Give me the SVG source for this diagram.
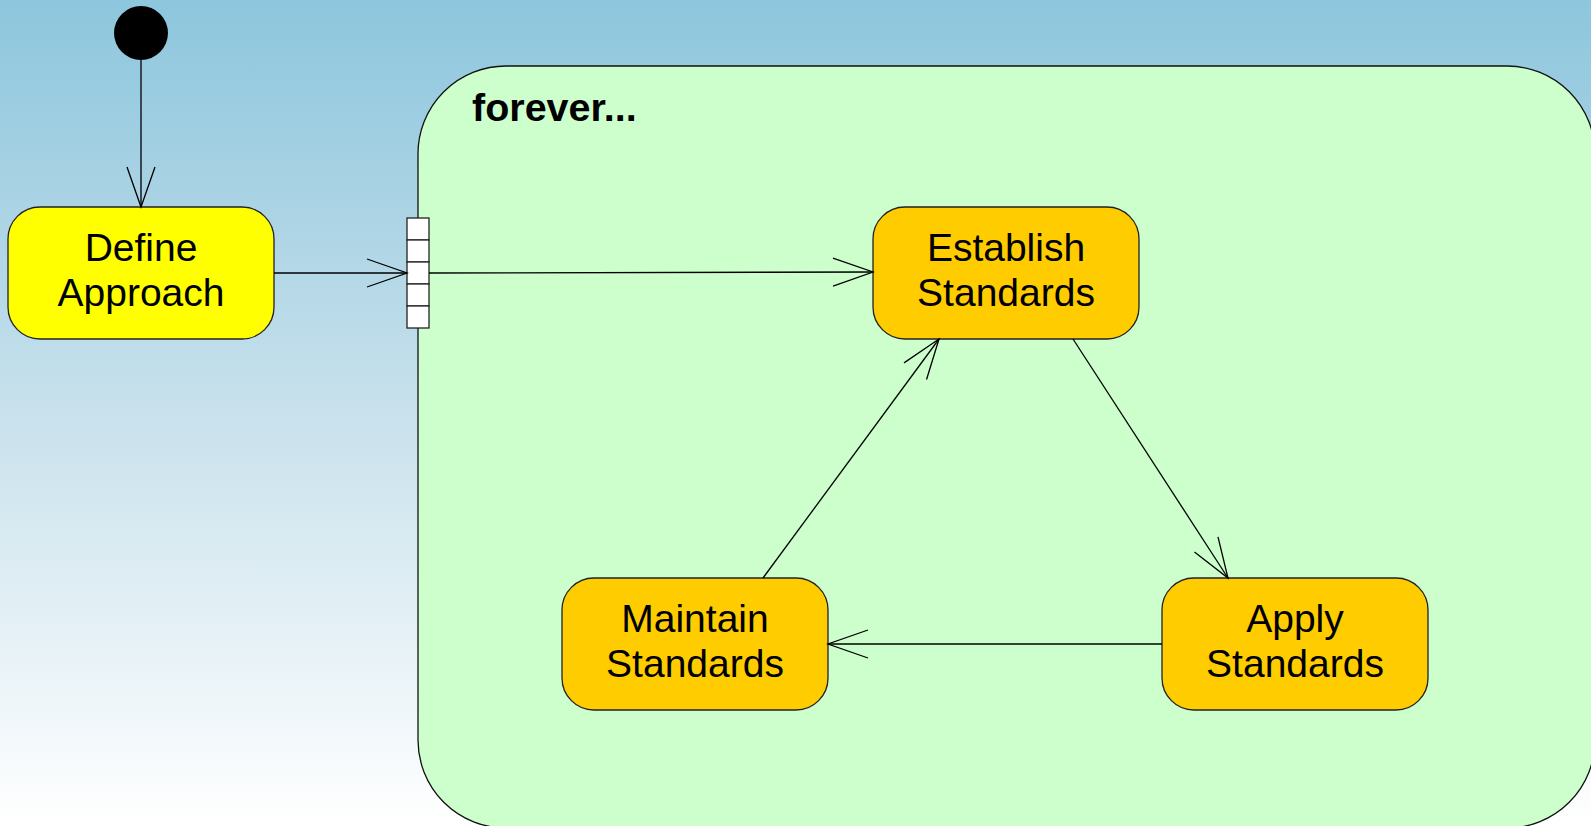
<svg xmlns="http://www.w3.org/2000/svg" width="1591" height="826" viewBox="0 0 1591 826">
  <defs>
    <linearGradient id="bg" x1="0" y1="0" x2="0" y2="1">
      <stop offset="0" stop-color="#8DC6DD"/>
      <stop offset="0.5" stop-color="#C8E1EC"/>
      <stop offset="1" stop-color="#FFFFFF"/>
    </linearGradient>
    <marker id="open" markerUnits="userSpaceOnUse" markerWidth="44" markerHeight="30" refX="40" refY="14" orient="auto" overflow="visible">
      <path d="M0,0 L40,14 L0,28" fill="none" stroke="#000" stroke-width="1.3"/>
    </marker>
    <style>
      .state { stroke: #222; stroke-width: 1.3; }
      .yellow { fill: #FFFF00; }
      .orange { fill: #FFCC00; }
      .label { font-family: "Liberation Sans", Arial, sans-serif; font-size: 39px; fill: #000; text-anchor: middle; }
      .edge { fill: none; stroke: #000; stroke-width: 1.3; marker-end: url(#open); }
      .cell { fill: #FFFFFF; stroke: #222; stroke-width: 1.3; }
    </style>
  </defs>

  <rect x="0" y="0" width="1591" height="826" fill="url(#bg)"/>

  <!-- composite state -->
  <g id="forever">
    <rect x="418" y="66" width="1177" height="762" rx="88" ry="88" fill="#CCFFCC" stroke="#111" stroke-width="1.3"/>
    <text x="472" y="121" font-family="'Liberation Sans', Arial, sans-serif" font-size="39.5" font-weight="bold" fill="#000">forever...</text>
  </g>

  <!-- initial pseudo-state -->
  <g id="initial">
    <circle cx="141" cy="33" r="27" fill="#000"/>
  </g>

  <!-- entry fork bar on the composite border -->
  <g id="entry">
    <rect class="cell" x="407" y="218" width="22" height="22"/>
    <rect class="cell" x="407" y="240" width="22" height="22"/>
    <rect class="cell" x="407" y="262" width="22" height="22"/>
    <rect class="cell" x="407" y="284" width="22" height="22"/>
    <rect class="cell" x="407" y="306" width="22" height="22"/>
  </g>

  <g id="define-approach">
    <rect class="state yellow" x="8" y="207" width="266" height="132" rx="32" ry="32"/>
    <text class="label" x="141" y="261">Define</text>
    <text class="label" x="141" y="306">Approach</text>
  </g>

  <g id="establish-standards">
    <rect class="state orange" x="873" y="207" width="266" height="132" rx="32" ry="32"/>
    <text class="label" x="1006" y="261">Establish</text>
    <text class="label" x="1006" y="306">Standards</text>
  </g>

  <g id="apply-standards">
    <rect class="state orange" x="1162" y="578" width="266" height="132" rx="32" ry="32"/>
    <text class="label" x="1295" y="632">Apply</text>
    <text class="label" x="1295" y="677">Standards</text>
  </g>

  <g id="maintain-standards">
    <rect class="state orange" x="562" y="578" width="266" height="132" rx="32" ry="32"/>
    <text class="label" x="695" y="632">Maintain</text>
    <text class="label" x="695" y="677">Standards</text>
  </g>

  <!-- transitions -->
  <g id="connectors">
    <line x1="141" y1="60" x2="141" y2="207" fill="none" stroke="#3A4650" stroke-width="2" marker-end="url(#open)"/>
    <line class="edge" x1="274" y1="273" x2="407" y2="273"/>
    <line class="edge" x1="429" y1="273" x2="873" y2="272"/>
    <line class="edge" x1="1073" y1="339" x2="1228" y2="578"/>
    <line class="edge" x1="1162" y1="644" x2="828" y2="644"/>
    <line class="edge" x1="763" y1="578" x2="939" y2="339"/>
  </g>
</svg>
